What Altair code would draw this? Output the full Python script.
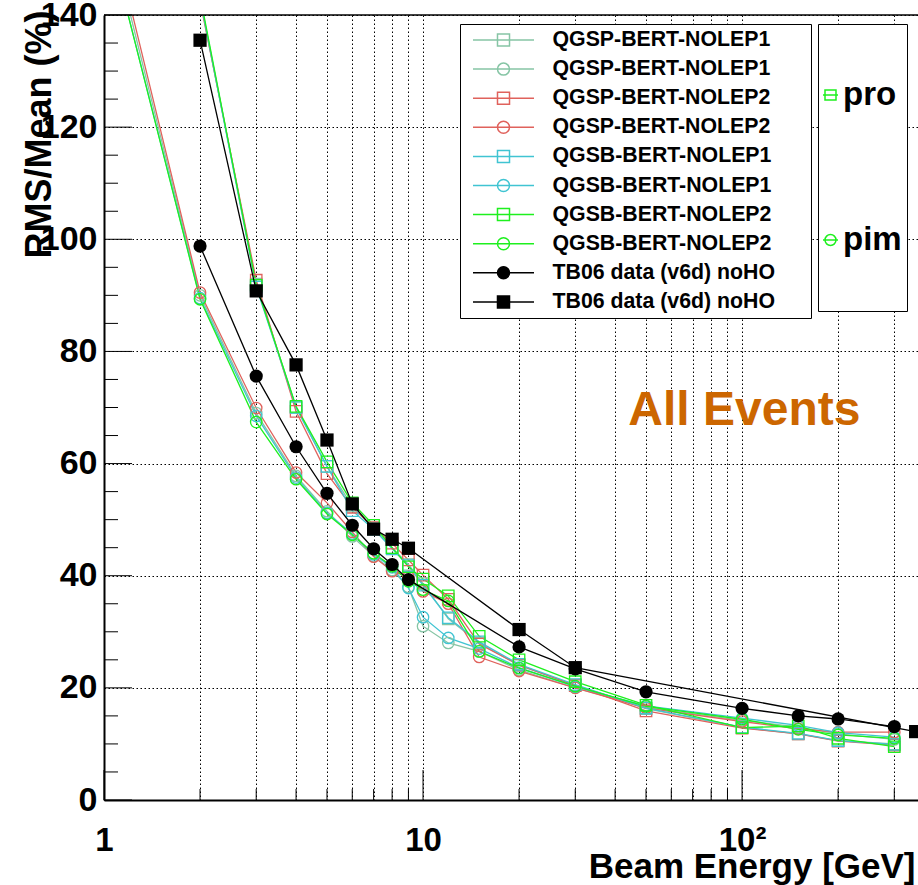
import altair as alt
import pandas as pd

# ---------------- data ----------------
E_SIM = [2, 3, 4, 5, 6, 7, 8, 9, 10, 12, 15, 20, 30, 50, 100, 150, 200, 300]
E_SIM_PIM = [1, 2, 3, 4, 5, 6, 7, 8, 9, 10, 12, 15, 20, 30, 50, 100, 150, 200, 300]

QGSP1_PRO = [143.0, 92.0, 70.0, 59.5, 52.4, 48.4, 45.0, 42.0, 38.6, 32.3, 28.0, 24.0, 20.5, 16.3, 12.9, 11.8, 10.6, 10.0]
QGSP2_PRO = [142.5, 92.7, 69.3, 58.2, 52.2, 48.6, 45.8, 42.8, 40.1, 35.8, 27.8, 24.1, 20.4, 15.9, 12.8, 11.8, 10.5, 9.8]
QGSB1_PRO = [143.0, 91.5, 70.0, 59.5, 51.6, 48.3, 44.8, 41.8, 38.3, 32.5, 28.2, 24.2, 20.6, 16.4, 13.0, 11.9, 10.6, 9.9]
QGSB2_PRO = [143.5, 91.8, 70.2, 60.3, 53.0, 49.0, 45.0, 41.6, 39.4, 36.4, 29.2, 25.0, 21.1, 16.9, 12.9, 13.2, 11.0, 9.5]

QGSP1_PIM = [159.0, 90.0, 69.0, 57.8, 51.5, 47.0, 43.5, 41.0, 38.0, 31.0, 28.0, 26.5, 23.2, 20.0, 16.5, 14.2, 13.0, 11.8, 10.8]
QGSP2_PIM = [161.0, 90.5, 69.9, 58.4, 53.0, 47.8, 43.4, 40.8, 39.8, 37.2, 35.0, 25.5, 23.0, 20.0, 16.4, 14.0, 12.7, 12.1, 12.1]
QGSB1_PIM = [157.0, 89.5, 68.5, 57.5, 51.2, 47.5, 43.8, 41.5, 37.8, 32.6, 28.9, 27.0, 23.6, 20.2, 16.8, 14.6, 13.3, 12.0, 11.2]
QGSB2_PIM = [157.0, 89.3, 67.4, 57.2, 51.0, 47.3, 44.0, 41.7, 39.0, 37.5, 35.5, 26.5, 23.5, 20.3, 16.7, 14.4, 12.6, 11.6, 11.0]

DATA_PIM_E = [2, 3, 4, 5, 6, 7, 8, 9, 20, 30, 50, 100, 150, 200, 300]
DATA_PIM = [98.8, 75.6, 63.0, 54.7, 49.0, 44.8, 42.0, 39.3, 27.3, 23.4, 19.3, 16.35, 15.0, 14.45, 13.1]
DATA_PRO_E = [2, 3, 4, 5, 6, 7, 8, 9, 20, 30, 350]
DATA_PRO = [135.5, 90.8, 77.6, 64.2, 52.8, 48.3, 46.5, 44.9, 30.4, 23.6, 12.2]

KEYS = [
    "QGSP-BERT-NOLEP1 pro", "QGSP-BERT-NOLEP1 pim",
    "QGSP-BERT-NOLEP2 pro", "QGSP-BERT-NOLEP2 pim",
    "QGSB-BERT-NOLEP1 pro", "QGSB-BERT-NOLEP1 pim",
    "QGSB-BERT-NOLEP2 pro", "QGSB-BERT-NOLEP2 pim",
    "TB06 data (v6d) noHO pim", "TB06 data (v6d) noHO pro",
]
C_QGSP1 = "#86c5a5"
C_QGSP2 = "#e0625c"
C_QGSB1 = "#40c4d2"
C_QGSB2 = "#1ef01e"
COLORS = [C_QGSP1, C_QGSP1, C_QGSP2, C_QGSP2, C_QGSB1, C_QGSB1, C_QGSB2, C_QGSB2, "black", "black"]
FILLS = ["transparent"] * 8 + ["black", "black"]

X_GRID = [1, 2, 3, 4, 5, 6, 7, 8, 9, 10, 20, 30, 40, 50, 60, 70, 80, 90, 100, 200, 300]
X_MAJOR = [1, 10, 100]
X_MINOR = [2, 3, 4, 5, 6, 7, 8, 9, 20, 30, 40, 50, 60, 70, 80, 90, 200, 300]
Y_MAJOR = [0, 20, 40, 60, 80, 100, 120, 140]
Y_MINOR = [v for v in range(5, 140, 5) if v % 20 != 0]

series = [
    (KEYS[0], E_SIM, QGSP1_PRO), (KEYS[1], E_SIM_PIM, QGSP1_PIM),
    (KEYS[2], E_SIM, QGSP2_PRO), (KEYS[3], E_SIM_PIM, QGSP2_PIM),
    (KEYS[4], E_SIM, QGSB1_PRO), (KEYS[5], E_SIM_PIM, QGSB1_PIM),
    (KEYS[6], E_SIM, QGSB2_PRO), (KEYS[7], E_SIM_PIM, QGSB2_PIM),
    (KEYS[8], DATA_PIM_E, DATA_PIM), (KEYS[9], DATA_PRO_E, DATA_PRO),
]
rows = []
for key, es, vs in series:
    for e, v in zip(es, vs):
        rows.append({"E": e, "v": v, "key": key, "ptype": key[-3:]})
df = pd.DataFrame(rows)
sim_df = df[~df["key"].str.startswith("TB06")]
dat_df = df[df["key"].str.startswith("TB06")]

# ---------------- scales / axes ----------------
FONT = "Liberation Sans"
W, H = 814, 785
xscale = alt.Scale(type="log", domain=[1, 356], nice=False)
yscale = alt.Scale(domain=[0, 140], nice=False, zero=False)
DASH = [1.5, 2.5]

xaxis = alt.Axis(
    values=X_GRID,
    labelExpr="datum.value == 1 ? '1' : datum.value == 10 ? '10' : datum.value == 100 ? '10\u00b2' : ''",
    grid=True, gridDash=DASH, gridColor="black", gridWidth=1, gridOpacity=1,
    ticks=False, tickSize=0,
    domain=True, domainColor="black", domainWidth=2,
    labelFont=FONT, labelFontWeight="bold", labelFontSize=33, labelColor="black",
    labelPadding=50, labelBaseline="alphabetic", labelFlush=False, labelOverlap=False,
    title="Beam Energy [GeV]", titleFont=FONT, titleFontWeight="bold", titleFontSize=35,
    titleColor="black", titleX=811, titleY=77, titleAlign="right", titleBaseline="alphabetic",
    titleAnchor="end",
)
yaxis = alt.Axis(
    values=Y_MAJOR,
    grid=True, gridDash=DASH, gridColor="black", gridWidth=1, gridOpacity=1,
    ticks=False, tickSize=0,
    domain=True, domainColor="black", domainWidth=2,
    labelFont=FONT, labelFontWeight="bold", labelFontSize=34, labelColor="black",
    labelPadding=7, labelOverlap=False,
    title="RMS/Mean (%)", titleFont=FONT, titleFontWeight="bold", titleFontSize=36,
    titleColor="black", titleAngle=270, titleX=-54, titleY=-5, titleAlign="right",
    titleBaseline="alphabetic",
)

X = alt.X("E:Q", scale=xscale, axis=xaxis)
Y = alt.Y("v:Q", scale=yscale, axis=yaxis)

# ---------------- data layers ----------------
sim_lines = alt.Chart(sim_df).mark_line(strokeWidth=1.3, clip=True).encode(
    x=X, y=Y,
    stroke=alt.Stroke("key:N", scale=alt.Scale(domain=KEYS[:8], range=COLORS[:8]), legend=None),
    detail="key:N",
    order="E:Q",
)
sim_points = alt.Chart(sim_df).mark_point(filled=False, size=130, strokeWidth=1.3, opacity=1, clip=True).encode(
    x=X, y=Y,
    stroke=alt.Stroke("key:N", scale=alt.Scale(domain=KEYS[:8], range=COLORS[:8]), legend=None),
    shape=alt.Shape("key:N", scale=alt.Scale(domain=KEYS[:8], range=["square", "circle"] * 4), legend=None),
)
dat_lines = alt.Chart(dat_df).mark_line(color="black", strokeWidth=1.3, clip=True).encode(
    x=X, y=Y, detail="key:N", order="E:Q",
)
dat_points = alt.Chart(dat_df).mark_point(filled=True, size=175, opacity=1, color="black", clip=True).encode(
    x=X, y=Y,
    shape=alt.Shape("key:N", scale=alt.Scale(domain=KEYS[8:], range=["circle", "square"]), legend=None),
)

# ---------------- legends ----------------
s = 0.197
SQ_PATH = f"M-1,0H1M-{s},-{s}H{s}V{s}H-{s}Z"
CI_PATH = f"M-1,0H1M-{s},0A{s},{s},0,1,0,{s},0A{s},{s},0,1,0,-{s},0Z"
LEG_PATHS = [SQ_PATH, CI_PATH] * 4 + [CI_PATH, SQ_PATH]

PAD_CHARS = "\u2800\u2800"  # blank (non-whitespace) characters to widen the legend frame
LEGC = alt.Legend(
    orient="none", legendX=356, legendY=9, title=None, direction="vertical", columns=1,
    labelExpr="slice(datum.label, 0, -4) + '" + PAD_CHARS + "'",
    labelFont=FONT, labelFontWeight="bold", labelFontSize=21.3, labelColor="black", labelLimit=600,
    symbolSize=3721, symbolStrokeWidth=1.5, symbolOpacity=1,
    symbolFillColor="transparent", symbolStrokeColor="black",
    clipHeight=21, rowPadding=7.1, padding=5.5, symbolOffset=6.5, labelOffset=17.5,
    strokeColor="black", fillColor="white",
)
legC = alt.Chart(df).transform_filter("datum.E < 0").mark_point(filled=True, opacity=1).encode(
    x=X, y=Y,
    stroke=alt.Stroke("key:N", scale=alt.Scale(domain=KEYS, range=COLORS), legend=LEGC),
    fill=alt.Fill("key:N", scale=alt.Scale(domain=KEYS, range=FILLS), legend=LEGC),
    shape=alt.Shape("key:N", scale=alt.Scale(domain=KEYS, range=LEG_PATHS), legend=LEGC),
)

D_SQ = "M-2.2,0H-0.2M-1.933,-0.667H-0.467V0.667H-1.933Z"
D_CI = "M-2.2,0H-0.2M-1.933,0A0.733,0.733,0,1,0,-0.467,0A0.733,0.733,0,1,0,-1.933,0Z"
LEGD = alt.Legend(
    orient="none", legendX=714, legendY=9, title=None, direction="vertical", columns=1,
    labelFont=FONT, labelFontWeight="bold", labelFontSize=33, labelColor="black", labelLimit=300,
    symbolSize=225, symbolStrokeWidth=1.5, symbolOpacity=1,
    clipHeight=132, rowPadding=13, padding=5, symbolOffset=0, labelOffset={"expr": "-13"},
    strokeColor="black", fillColor="white",
)
legD = alt.Chart(df).transform_filter("datum.E < 0").mark_point(filled=False, color=C_QGSB2, opacity=1).encode(
    x=X, y=Y,
    shape=alt.Shape("ptype:N", scale=alt.Scale(domain=["pro", "pim"], range=[D_SQ, D_CI]), legend=LEGD),
)

# ---------------- frame ticks ----------------
ytick_major = alt.Chart(pd.DataFrame({"v": Y_MAJOR})).mark_rule(color="black", strokeWidth=1).encode(
    y=Y, x=alt.value(0), x2=alt.value(28))
ytick_minor = alt.Chart(pd.DataFrame({"v": Y_MINOR})).mark_rule(color="black", strokeWidth=1).encode(
    y=Y, x=alt.value(0), x2=alt.value(14))
xtick_major = alt.Chart(pd.DataFrame({"E": X_MAJOR})).mark_rule(color="black", strokeWidth=1).encode(
    x=X, y=alt.value(H), y2=alt.value(H - 30))
xtick_minor = alt.Chart(pd.DataFrame({"E": X_MINOR})).mark_rule(color="black", strokeWidth=1).encode(
    x=X, y=alt.value(H), y2=alt.value(H - 11))
top_border = alt.Chart(pd.DataFrame({"a": [0]})).mark_rule(color="black", strokeWidth=1.5).encode(
    x=alt.value(0), x2=alt.value(W), y=alt.value(0))

label = alt.Chart(pd.DataFrame({"E": [44.0], "v": [66.9], "t": ["All Events"]})).mark_text(
    align="left", baseline="alphabetic", font=FONT, fontWeight="bold", fontSize=48, color="#cc6600"
).encode(x=X, y=Y, text="t:N")

chart = alt.layer(
    sim_lines, sim_points, dat_lines, dat_points,
    ytick_major, ytick_minor, xtick_major, xtick_minor, top_border,
    label, legC, legD,
).resolve_scale(
    stroke="independent", shape="independent", fill="independent", color="independent"
).properties(
    width=W, height=H,
    autosize=alt.AutoSizeParams(type="none"),
    padding={"left": 104, "top": 15, "right": 0, "bottom": 85},
    background="white",
).configure_view(stroke=None)

chart.save("out.html", embed_options={"renderer": "svg", "actions": False})
